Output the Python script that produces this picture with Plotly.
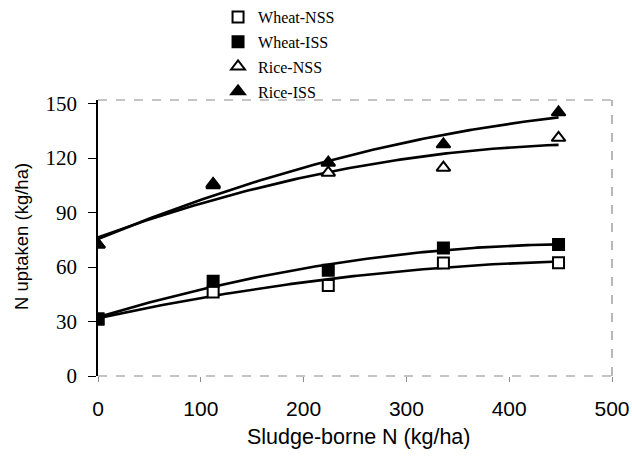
import numpy as np
import plotly.graph_objects as go

# Sludge-borne N applied (kg/ha) and N uptake (kg/ha) for each crop/soil
sludge_n = [0, 112, 224, 336, 448]
wheat_nss = [31.4, 46.2, 49.9, 62.2, 62.4]
wheat_iss = [31.4, 52.2, 58.3, 70.5, 72.4]
rice_nss = [72.4, 105.0, 112.0, 114.7, 131.2]
rice_iss = [72.4, 105.8, 117.5, 127.6, 145.2]

series = [
    ("Wheat-NSS", wheat_nss, "square", "white"),
    ("Wheat-ISS", wheat_iss, "square", "black"),
    ("Rice-NSS", rice_nss, "triangle-up", "white"),
    ("Rice-ISS", rice_iss, "triangle-up", "black"),
]

x_ticks = [0, 100, 200, 300, 400, 500]
y_ticks = [0, 30, 60, 90, 120, 150]

fig = go.Figure()

# second-order polynomial trend lines
xs = np.linspace(min(sludge_n), max(sludge_n), 120)
for name, vals, sym, fill in series:
    coef = np.polyfit(sludge_n, vals, 2)
    fig.add_trace(go.Scatter(
        x=xs, y=np.polyval(coef, xs), mode="lines",
        line=dict(color="black", width=2.6), showlegend=False,
        hoverinfo="skip",
    ))

# observed points
for i, (name, vals, sym, fill) in enumerate(series):
    fig.add_trace(go.Scatter(
        x=sludge_n, y=vals, mode="markers", name=name,
        legendgroup=f"g{i}",
        marker=dict(symbol=sym, size=11 if sym == "square" else 12,
                    color=fill, line=dict(color="black", width=2)),
    ))

frame = dict(color="#8a8a8a", width=1.2, dash="dash")
fig.add_shape(type="line", xref="paper", yref="paper", x0=0, x1=1, y0=1, y1=1, line=frame)
fig.add_shape(type="line", xref="paper", yref="paper", x0=1, x1=1, y0=0, y1=1, line=frame)
fig.add_shape(type="line", xref="paper", yref="paper", x0=0, x1=1, y0=0, y1=0, line=frame)

# axis titles
fig.add_annotation(
    text="Sludge-borne N (kg/ha)", xref="paper", yref="paper",
    x=0.507, y=-0.221, xanchor="center", yanchor="middle",
    showarrow=False, font=dict(family="Liberation Sans", size=21.5, color="black"),
)
fig.add_annotation(
    text="N uptaken (kg/ha)", xref="paper", yref="paper",
    x=-0.150, y=0.507, xanchor="center", yanchor="middle", textangle=-90,
    showarrow=False, font=dict(family="Liberation Sans", size=18.5, color="black"),
)

fig.update_layout(
    width=632, height=456,
    margin=dict(l=98, r=20, t=100, b=80, autoexpand=False),
    paper_bgcolor="white", plot_bgcolor="white",
    showlegend=True,
    legend=dict(
        x=0.345, y=1.0, xref="container", yref="container",
        xanchor="left", yanchor="top",
        font=dict(family="Liberation Serif", size=16, color="black"),
        tracegroupgap=1, itemwidth=30, bgcolor="rgba(0,0,0,0)",
    ),
    xaxis=dict(
        range=[0, 500], tickvals=x_ticks, showgrid=False, zeroline=False,
        showline=False, ticks="outside", ticklen=5, tickcolor="#8a8a8a",
        ticklabelstandoff=9,
        tickfont=dict(family="Liberation Sans", size=21, color="black"),
    ),
    yaxis=dict(
        range=[0, 152], tickvals=y_ticks, showgrid=False, zeroline=False,
        showline=True, linecolor="black", linewidth=1.5,
        ticks="outside", ticklen=8, tickcolor="black",
        ticklabelstandoff=7,
        tickfont=dict(family="Liberation Serif", size=21, color="black"),
    ),
)

fig.write_html("out.html")
